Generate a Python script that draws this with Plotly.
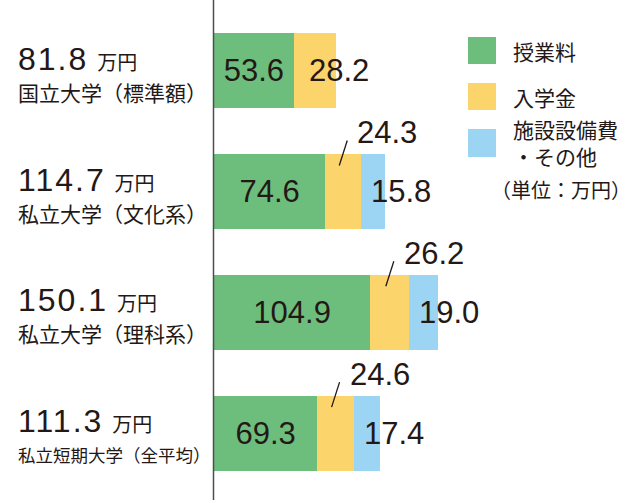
import plotly.graph_objects as go

# ---- data ----
categories = ["国立大学（標準額）", "私立大学（文化系）", "私立大学（理科系）", "私立短期大学（全平均）"]
tuition = [53.6, 74.6, 104.9, 69.3]
admission = [28.2, 24.3, 26.2, 24.6]
facilities = [0.0, 15.8, 19.0, 17.4]
series_names = ["授業料", "入学金", "施設設備費", "・その他"]
unit_label = "（単位：万円）"
total_unit = "万円"

# ---- style / layout constants ----
GREEN = "#6DBE7D"
YELLOW = "#FCD46C"
BLUE = "#9CD5F4"
INK = "#231815"
NUM_FONT = "Liberation Sans, Arial, Noto Sans CJK JP, sans-serif"
JP_FONT = "Noto Sans CJK JP, sans-serif"

W, H = 640, 503
AXIS_PX = 214
PX_PER_UNIT = 1.49
ROW_TOP = 70.7
ROW_STEP = 120.8
BAR_W = 75 / ROW_STEP

ypos = list(range(len(categories)))
totals = [round(a + b + c, 1) for a, b, c in zip(tuition, admission, facilities)]

fig = go.Figure()
for vals, col, nm, show_text in [
    (tuition, GREEN, series_names[0], True),
    (admission, YELLOW, series_names[1], False),
    (facilities, BLUE, series_names[2] + series_names[3], False),
]:
    fig.add_trace(go.Bar(
        y=ypos, x=vals, orientation="h", name=nm,
        marker=dict(color=col, line=dict(width=0)),
        width=BAR_W,
        text=[f"{v:.1f}" for v in vals] if show_text else None,
        textposition="inside" if show_text else "none",
        insidetextanchor="middle",
        textangle=0,
        constraintext="none",
        textfont=dict(size=31, color=INK, family=NUM_FONT),
        hoverinfo="skip",
    ))

annotations = []
shapes = []

for i in ypos:
    # left labels: total + unit, and category name
    annotations.append(dict(
        xref="paper", yref="y", x=16 / W, y=i, xanchor="left", yanchor="middle",
        yshift=12, showarrow=False,
        text=f"<span style='letter-spacing:2px'>{totals[i]:.1f}</span> "
             f"<span style='font-size:20px'>{total_unit}</span>",
        font=dict(size=32, color=INK, family=NUM_FONT),
    ))
    annotations.append(dict(
        xref="paper", yref="y", x=16 / W, y=i, xanchor="left", yanchor="middle",
        yshift=-21, showarrow=False, text=categories[i],
        font=dict(size=21 if len(categories[i]) < 10 else 17.5, color=INK, family=JP_FONT),
    ))
    if facilities[i] > 0:
        # admission label above bar with leader line
        xc = tuition[i] + admission[i] / 2
        annotations.append(dict(
            xref="x", yref="y", x=xc, y=i, xanchor="left", yanchor="middle",
            xshift=12, yshift=59, showarrow=False, text=f"{admission[i]:.1f}",
            font=dict(size=31, color=INK, family=NUM_FONT),
        ))
        shapes.append(dict(
            type="line", xref="x", yref="y",
            xsizemode="pixel", xanchor=xc, x0=4, x1=-4,
            ysizemode="pixel", yanchor=i, y0=51, y1=26,
            line=dict(color=INK, width=1.3),
        ))
        annotations.append(dict(
            xref="x", yref="y", x=tuition[i] + admission[i], y=i,
            xanchor="left", yanchor="middle", xshift=8, showarrow=False,
            text=f"{facilities[i]:.1f}",
            font=dict(size=31, color=INK, family=NUM_FONT),
        ))
    else:
        annotations.append(dict(
            xref="x", yref="y", x=tuition[i], y=i,
            xanchor="left", yanchor="middle", xshift=13, showarrow=False,
            text=f"{admission[i]:.1f}",
            font=dict(size=31, color=INK, family=NUM_FONT),
        ))

# vertical axis line
shapes.append(dict(type="line", xref="paper", yref="paper",
                   x0=213.5 / W, x1=213.5 / W, y0=1, y1=3 / H,
                   line=dict(color="#4d4d4d", width=1.5), layer="above"))

# legend (drawn manually)
leg = [(GREEN, 37, 64), (YELLOW, 83, 110), (BLUE, 129, 157)]
for col, t, b in leg:
    shapes.append(dict(type="rect", xref="paper", yref="paper",
                       x0=468 / W, x1=496 / W, y0=1 - b / H, y1=1 - t / H,
                       fillcolor=col, line=dict(width=0)))
for txt, yc in [(series_names[0], 51), (series_names[1], 97),
                (series_names[2] + "<br>" + series_names[3], 143)]:
    annotations.append(dict(
        xref="paper", yref="paper", x=511 / W, y=1 - yc / H,
        xanchor="left", yanchor="middle", showarrow=False, text=txt,
        align="left",
        font=dict(size=21, color=INK, family=JP_FONT),
    ))
annotations.append(dict(
    xref="paper", yref="paper", x=633 / W, y=1 - 190 / H,
    xanchor="right", yanchor="middle", showarrow=False, text=unit_label,
    font=dict(size=20, color=INK, family=JP_FONT),
))

fig.update_layout(
    width=W, height=H, autosize=False,
    margin=dict(l=0, r=0, t=0, b=0),
    paper_bgcolor="white", plot_bgcolor="white",
    barmode="stack", showlegend=False,
    xaxis=dict(domain=[AXIS_PX / W, 1], range=[0, (W - AXIS_PX) / PX_PER_UNIT],
               visible=False, fixedrange=True),
    yaxis=dict(range=[(H - ROW_TOP) / ROW_STEP, -ROW_TOP / ROW_STEP],
               visible=False, fixedrange=True),
    annotations=annotations,
    shapes=shapes,
)

fig.write_html("out.html", config={"displayModeBar": False})
